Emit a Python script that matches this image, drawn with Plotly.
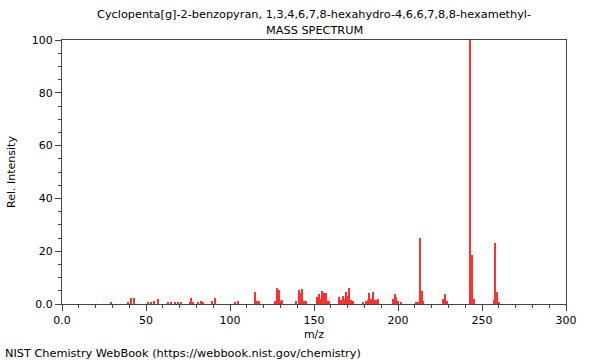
import plotly.graph_objects as go

mz = [29, 39, 41, 43, 51, 53, 55, 57, 63, 65, 67, 69, 71, 76, 77, 78, 81, 83, 84,
      89, 91, 103, 105, 115, 116, 117, 127, 128, 129, 130, 131, 139, 141, 142, 143,
      144, 145, 152, 153, 154, 155, 156, 157, 158, 159, 165, 166, 167, 168, 169,
      170, 171, 172, 173, 179, 181, 182, 183, 184, 185, 186, 187, 188, 197, 198,
      199, 200, 202, 211, 212, 213, 214, 215, 227, 228, 229, 243, 244, 245, 257,
      258, 259, 260]
intensity = [0.8, 0.8, 2.3, 2.3, 0.7, 0.8, 1.0, 1.9, 0.7, 0.7, 0.5, 0.5, 0.6, 0.8,
             2.1, 0.5, 0.6, 1.0, 0.5, 1.0, 2.3, 0.5, 1.0, 4.5, 1.0, 1.0, 1.0, 6.0,
             5.2, 1.0, 1.5, 1.0, 5.2, 4.0, 5.7, 1.0, 1.2, 2.5, 3.9, 2.0, 4.9, 4.0,
             4.2, 1.0, 1.0, 2.8, 1.5, 3.2, 2.0, 4.7, 3.0, 6.0, 1.5, 1.0, 0.5, 1.0,
             1.5, 4.3, 2.0, 4.4, 1.5, 1.5, 2.0, 2.0, 3.9, 2.5, 1.0, 0.6, 0.5, 0.6,
             25.0, 4.9, 1.0, 1.9, 3.7, 1.0, 100.0, 18.4, 1.9, 1.5, 23.2, 4.7, 0.5]

x_ticks = [0, 50, 100, 150, 200, 250, 300]
x_labels = ["0.0", "50", "100", "150", "200", "250", "300"]
y_ticks = [0, 20, 40, 60, 80, 100]
y_labels = ["0.0", "20", "40", "60", "80", "100"]

title_line1 = "Cyclopenta[g]-2-benzopyran, 1,3,4,6,7,8-hexahydro-4,6,6,7,8,8-hexamethyl-"
title_line2 = "MASS SPECTRUM"
footer = "NIST Chemistry WebBook (https://webbook.nist.gov/chemistry)"

FONT = "DejaVu Sans"
AX = "#444444"

fig = go.Figure(go.Bar(x=mz, y=intensity, width=0.6, marker=dict(color="#ff3030", line=dict(width=0))))

axis_common = dict(
    showline=True, linecolor=AX, linewidth=1, mirror=True,
    ticks="outside", ticklen=6, tickcolor=AX, showgrid=False, zeroline=False,
    tickfont=dict(family=FONT, size=11, color="#000000"),
)

fig.update_xaxes(range=[0, 300], tickvals=x_ticks, ticktext=x_labels,
                 minor=dict(dtick=10, tick0=0, ticklen=3, ticks="outside", tickcolor=AX),
                 title=dict(text="m/z", font=dict(family=FONT, size=11, color="#000000"), standoff=4),
                 **axis_common)
fig.update_yaxes(range=[0, 100], tickvals=y_ticks, ticktext=y_labels,
                 minor=dict(dtick=5, tick0=0, ticklen=3, ticks="outside", tickcolor=AX),
                 title=dict(text="Rel. Intensity", font=dict(family=FONT, size=11, color="#000000"), standoff=13),
                 **axis_common)

fig.update_layout(
    width=600, height=360,
    margin=dict(l=62, r=34, t=40, b=56, autoexpand=False),
    plot_bgcolor="white", paper_bgcolor="white",
    showlegend=False, bargap=0,
    font=dict(family=FONT, size=11, color="#000000"),
    annotations=[
        dict(text=title_line1, xref="paper", yref="paper", x=0.5, y=(304 - 14) / 264,
             xanchor="center", yanchor="middle", showarrow=False, font=dict(size=11.3)),
        dict(text=title_line2, xref="paper", yref="paper", x=0.5, y=(304 - 30) / 264,
             xanchor="center", yanchor="middle", showarrow=False, font=dict(size=11.3)),
        dict(text=footer, xref="paper", yref="paper", x=(3 - 62) / 504, y=(304 - 353) / 264,
             xanchor="left", yanchor="middle", showarrow=False, font=dict(size=11.3)),
    ],
)

fig.write_html("out.html")
